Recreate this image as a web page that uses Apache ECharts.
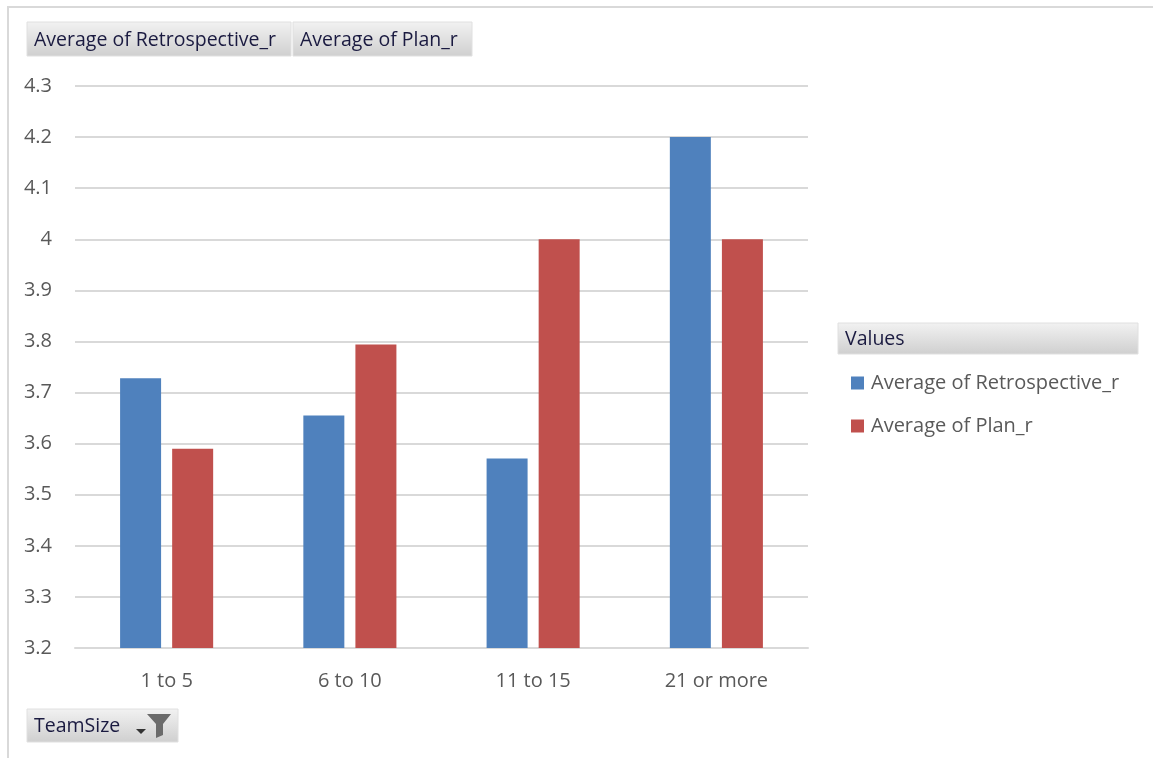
<!DOCTYPE html>
<html>
<head>
<meta charset="utf-8">
<script src="https://cdn.jsdelivr.net/npm/echarts@6/dist/echarts.min.js"></script>
<style>
html,body{margin:0;padding:0;background:#fff;}
#frame{position:absolute;left:7px;top:6px;width:1160px;height:770px;border-top:2px solid #d9d9d9;border-left:2px solid #d9d9d9;box-sizing:border-box;}
#chart{position:absolute;left:0;top:0;width:1153px;height:758px;}
</style>
</head>
<body>
<div id="frame"></div>
<div id="chart"></div>
<script>
const categories = ['1 to 5', '6 to 10', '11 to 15', '21 or more'];
const retrospective = [3.728, 3.655, 3.571, 4.2];
const plan = [3.59, 3.794, 4.0, 4.0];
const seriesNames = ['Average of Retrospective_r', 'Average of Plan_r'];
const yTicks = { min: 3.2, max: 4.3, interval: 0.1 };

const font = '"Open Sans", "Liberation Sans", sans-serif';
const btnGrad = {type:'linear',x:0,y:0,x2:0,y2:1,colorStops:[{offset:0,color:'#f2f2f2'},{offset:1,color:'#cfcfcf'}]};

function button(x, y, w, h, label, size, extra) {
  const els = [
    {type:'rect', shape:{x:x, y:y, width:w, height:h}, style:{fill:btnGrad, stroke:'#e0e0e0', lineWidth:1}, silent:true},
    {type:'text', x:x+7, y:y+h/2+1, style:{text:label, font:size + 'px ' + font, fill:'#1a1a40', verticalAlign:'middle'}, silent:true}
  ];
  return els.concat(extra || []);
}

const chart = echarts.init(document.getElementById('chart'), null, {renderer:'canvas'});
chart.setOption({
  backgroundColor: 'transparent',
  animation: false,
  grid: { left: 75, right: 345, top: 86, bottom: 110, containLabel: false },
  legend: {
    data: seriesNames,
    orient: 'vertical',
    left: 846, top: 368,
    itemWidth: 13, itemHeight: 13, itemGap: 23,
    icon: 'rect',
    textStyle: { fontSize: 20, color: '#595959', fontFamily: font, padding:[0,0,0,2] }
  },
  xAxis: {
    type: 'category',
    data: categories,
    axisLine: { show: true, lineStyle: { color: '#d9d9d9', width: 2 } },
    axisTick: { show: false },
    axisLabel: { fontSize: 20, color: '#595959', fontFamily: font, margin: 23 }
  },
  yAxis: {
    type: 'value',
    min: yTicks.min, max: yTicks.max, interval: yTicks.interval,
    axisLine: { show: false },
    axisTick: { show: false },
    splitLine: { lineStyle: { color: '#d9d9d9', width: 2 } },
    axisLabel: { fontSize: 20, color: '#595959', fontFamily: font, margin: 23,
      formatter: v => String(Math.round(v * 10) / 10) }
  },
  series: [
    { name: seriesNames[0], type: 'bar', data: retrospective, barWidth: 41, barGap: '27%',
      itemStyle: { color: '#4f81bd' } },
    { name: seriesNames[1], type: 'bar', data: plan, barWidth: 41,
      itemStyle: { color: '#c0504d' } }
  ],
  graphic: [].concat(
    button(27, 22, 264, 34, 'Average of Retrospective_r', 19.5),
    button(293, 22, 179, 34, 'Average of Plan_r', 19.5),
    button(838, 323, 300, 31, 'Values', 19.5),
    button(27, 709, 151, 33, 'TeamSize', 19.5, [
      {type:'polygon', shape:{points:[[136,729],[146,729],[141,734]]}, style:{fill:'#333'}, silent:true},
      {type:'polygon', shape:{points:[[147,714],[171,714],[163,724],[163,735],[156,738],[156,724]]}, style:{fill:'#6b6b6b'}, silent:true}
    ])
  )
});
</script>
</body>
</html>
